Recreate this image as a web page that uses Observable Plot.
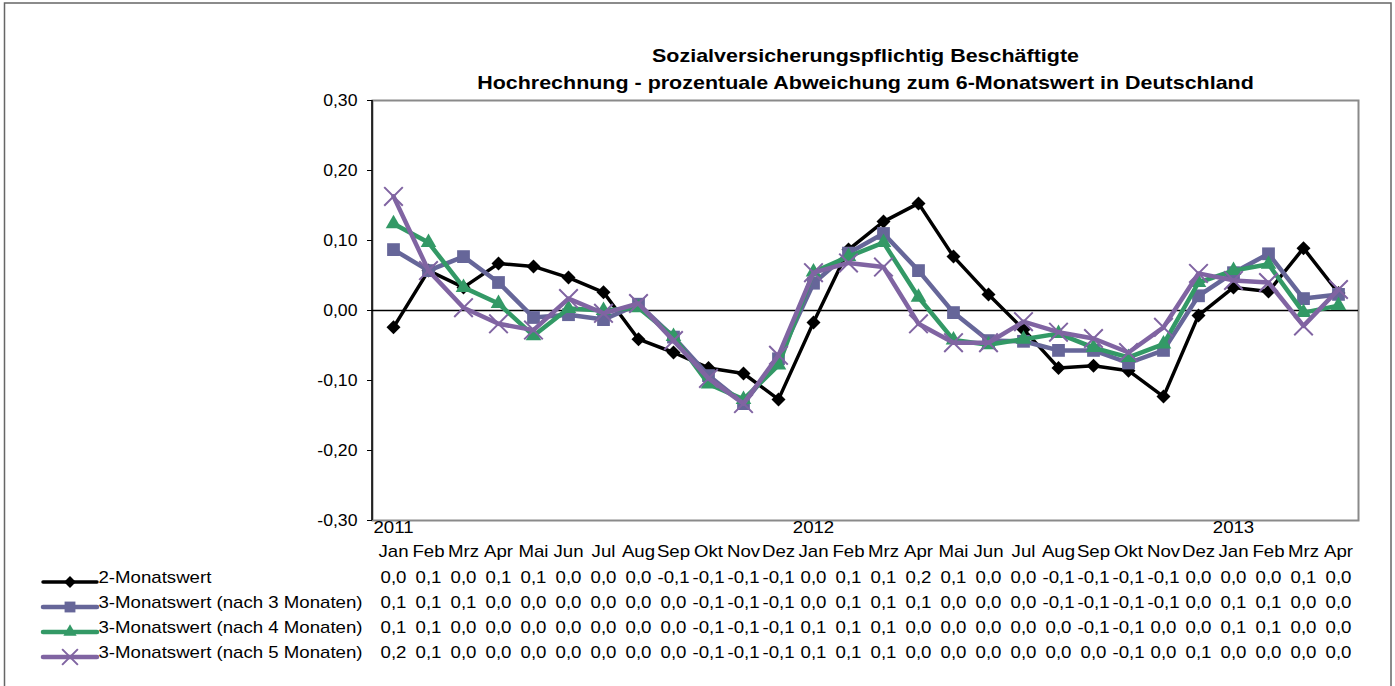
<!DOCTYPE html>
<html>
<head>
<meta charset="utf-8">
<script src="https://cdn.jsdelivr.net/npm/d3@7"></script>
<script src="https://cdn.jsdelivr.net/npm/@observablehq/plot@0.6"></script>
<style>
  body { margin: 0; background: #fff; }
  #chart { position: absolute; left: 0; top: 0; }
</style>
</head>
<body>
<div id="chart"></div>
<script>
// ---- Data ----
const months = ["Jan","Feb","Mrz","Apr","Mai","Jun","Jul","Aug","Sep","Okt","Nov","Dez",
                "Jan","Feb","Mrz","Apr","Mai","Jun","Jul","Aug","Sep","Okt","Nov","Dez",
                "Jan","Feb","Mrz","Apr"];
const yearLabels = [{i: 0, label: "2011"}, {i: 12, label: "2012"}, {i: 24, label: "2013"}];
const yTicks = [-0.3, -0.2, -0.1, 0, 0.1, 0.2, 0.3];

const seriesNames = [
  "2-Monatswert",
  "3-Monatswert (nach 3 Monaten)",
  "3-Monatswert (nach 4 Monaten)",
  "3-Monatswert (nach 5 Monaten)"
];
const zweiMonatswert = [-0.024, 0.057, 0.033, 0.067, 0.063, 0.047, 0.026, -0.041, -0.060, -0.082, -0.090, -0.127,
                        -0.017, 0.087, 0.127, 0.153, 0.077, 0.023, -0.027, -0.082, -0.079, -0.086, -0.123, -0.007,
                        0.033, 0.027, 0.089, 0.025];
const nach3 = [0.087, 0.057, 0.077, 0.040, -0.010, -0.006, -0.013, 0.009, -0.038, -0.093, -0.133, -0.069,
               0.039, 0.082, 0.110, 0.057, -0.003, -0.043, -0.044, -0.057, -0.057, -0.075, -0.057, 0.021,
               0.054, 0.081, 0.017, 0.023];
const nach4 = [0.124, 0.097, 0.033, 0.010, -0.036, 0.003, 0.000, 0.004, -0.037, -0.105, -0.127, -0.078,
               0.055, 0.077, 0.097, 0.019, -0.042, -0.049, -0.041, -0.033, -0.053, -0.067, -0.048, 0.040,
               0.057, 0.066, -0.003, 0.007];
const nach5 = [0.163, 0.057, 0.004, -0.019, -0.028, 0.017, -0.004, 0.010, -0.043, -0.097, -0.133, -0.064,
               0.054, 0.068, 0.062, -0.019, -0.046, -0.046, -0.016, -0.031, -0.040, -0.060, -0.024, 0.053,
               0.043, 0.040, -0.022, 0.030];

const colors = ["#000000", "#666699", "#339966", "#8064A2"];
const symbols = ["diamond2", "square", "triangle", "times"];
const symR = [6.3, 7.2, 5.8, 8.5];
const lineW = [3.5, 4.5, 4.5, 4.5];
const allSeries = [zweiMonatswert, nach3, nach4, nach5];

// ---- helpers ----
const fmtTable = v => {
  let r = Math.round(v * 10) / 10;
  if (r === 0) r = 0;
  return r.toFixed(1).replace(".", ",");
};
const fmtAxis = v => v.toFixed(2).replace(".", ",");
const idx = d3.range(months.length);

const W = 1395, H = 686;
const mL = 372, mR = 37, mT = 100, mB = 166;
const rowDy = [62, 87, 112, 137];
const FS = 16;

const seriesMarks = [];
allSeries.forEach((vals, s) => {
  const data = idx.map(i => ({i, v: vals[i]}));
  seriesMarks.push(Plot.line(data, {x: "i", y: "v", stroke: colors[s], strokeWidth: lineW[s], strokeLinejoin: "round"}));
  if (symbols[s] === "times") {
    seriesMarks.push(Plot.dot(data, {x: "i", y: "v", symbol: "times", r: symR[s], stroke: colors[s], strokeWidth: 2, fill: "none"}));
  } else {
    seriesMarks.push(Plot.dot(data, {x: "i", y: "v", symbol: symbols[s], r: symR[s], fill: colors[s], stroke: "none"}));
  }
});

const tableMarks = [];
allSeries.forEach((vals, s) => {
  tableMarks.push(Plot.text(idx, {x: d => d, text: d => fmtTable(vals[d]), frameAnchor: "bottom", dy: rowDy[s], fontSize: FS, fill: "#000", className: "stretch"}));
  tableMarks.push(Plot.text([seriesNames[s]], {text: d => d, frameAnchor: "bottom-left", dx: 98 - mL, dy: rowDy[s], textAnchor: "start", fontSize: FS, fill: "#000", className: "stretch"}));
});

// legend keys, outer border, left axis line (render function)
const decorations = (index, scales, values, dim) => {
  const g = d3.create("svg:g");
  g.append("rect").attr("x", 4.5).attr("y", 3).attr("width", 1391 - 4.5).attr("height", H + 20)
    .attr("fill", "none").attr("stroke", "#666").attr("stroke-width", 1.5);
  g.append("line").attr("x1", dim.marginLeft).attr("x2", dim.marginLeft)
    .attr("y1", dim.marginTop).attr("y2", dim.height - dim.marginBottom)
    .attr("stroke", "#000").attr("stroke-width", 1.5);
  const symMap = {diamond2: d3.symbolDiamond2, square: d3.symbolSquare, triangle: d3.symbolTriangle, times: d3.symbolTimes};
  allSeries.forEach((vals, s) => {
    const y = dim.height - dim.marginBottom + rowDy[s];
    g.append("line").attr("x1", 43).attr("x2", 97).attr("y1", y).attr("y2", y)
      .attr("stroke", colors[s]).attr("stroke-width", lineW[s]).attr("stroke-linecap", "round");
    const r = symR[s] * 0.85;
    const path = g.append("path").attr("transform", `translate(70,${y})`)
      .attr("d", d3.symbol(symMap[symbols[s]], Math.PI * r * r)());
    if (symbols[s] === "times") path.attr("fill", "none").attr("stroke", colors[s]).attr("stroke-width", 2);
    else path.attr("fill", colors[s]);
  });
  return g.node();
};

const chart = Plot.plot({
  width: W,
  height: H,
  marginLeft: mL,
  marginRight: mR,
  marginTop: mT,
  marginBottom: mB,
  style: {fontFamily: "Arial, 'Liberation Sans', sans-serif", fontSize: FS + "px", color: "#000", background: "#fff"},
  x: {type: "point", domain: idx, padding: 0.5, axis: null},
  y: {domain: [-0.3, 0.3], axis: null},
  marks: [
    Plot.frame({stroke: "#8a8a8a", strokeWidth: 2}),
    Plot.ruleY([0], {stroke: "#000", strokeWidth: 1.5}),
    Plot.axisY({ticks: yTicks, tickFormat: fmtAxis, tickSize: 5, tickPadding: 10, fontSize: 16.5, stroke: "#000", fill: "#000", label: null, className: "ystretch"}),
    ...seriesMarks,
    Plot.text(yearLabels, {x: "i", text: "label", frameAnchor: "bottom", dy: 12, fontSize: FS, fill: "#000", className: "stretch"}),
    Plot.text(idx, {x: d => d, text: d => months[d], frameAnchor: "bottom", dy: 36, fontSize: FS, fill: "#000", className: "stretch"}),
    ...tableMarks,
    Plot.text(["Sozialversicherungspflichtig Beschäftigte"], {text: d => d, frameAnchor: "top", dy: -52, fontSize: 19, fontWeight: "bold", fill: "#000", className: "tstretch"}),
    Plot.text(["Hochrechnung - prozentuale Abweichung zum 6-Monatswert in Deutschland"], {text: d => d, frameAnchor: "top", dy: -25, fontSize: 19, fontWeight: "bold", fill: "#000", className: "tstretch"}),
    decorations
  ]
});

// horizontal stretch of text glyphs about their anchor point (mimics the original's wide rendering)
function stretch(selector, k) {
  chart.querySelectorAll(selector).forEach(t => {
    const tr = t.getAttribute("transform");
    if (tr) t.setAttribute("transform", tr + ` scale(${k},1)`);
  });
}
stretch(".stretch text", 1.165);
stretch(".ystretch text", 1.07);
stretch(".tstretch text", 1.13);

document.getElementById("chart").appendChild(chart);
</script>
</body>
</html>
